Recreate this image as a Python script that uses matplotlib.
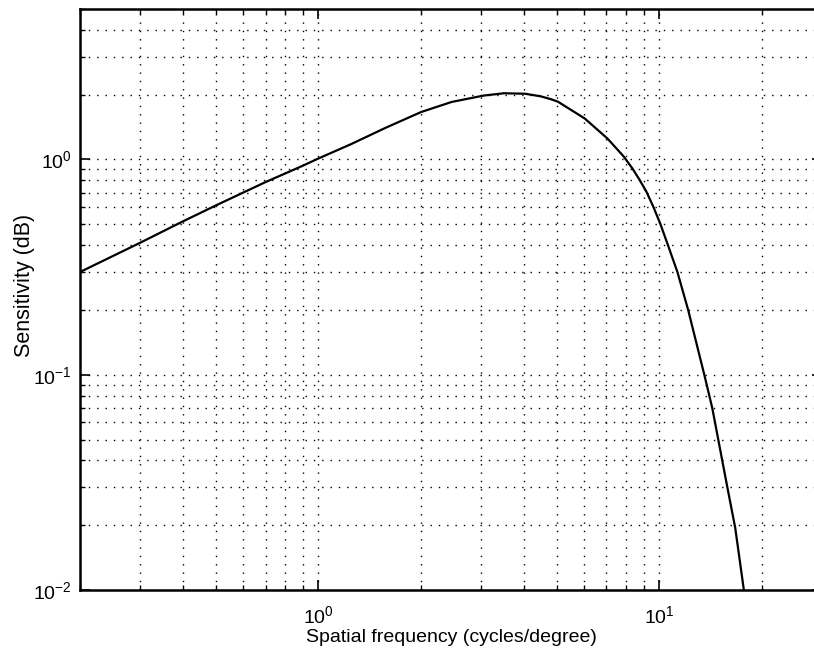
import matplotlib
matplotlib.use("Agg")
import matplotlib.pyplot as plt
from matplotlib.ticker import LogLocator, NullFormatter

plt.rcParams['font.family'] = ['Liberation Sans', 'DejaVu Sans']

freq = [0.2, 0.3, 0.4, 0.5, 0.6, 0.7, 0.9, 1.0, 1.25, 1.57, 2.0, 2.46, 3.05, 3.5,
        4.04, 4.5, 4.81, 5.04, 6.04, 7.05, 7.86, 8.34, 8.74, 9.16, 9.6,
        10.06, 10.6, 11.3, 12.15, 13.55, 14.3, 15.8, 16.7, 17.7]
sens = [0.30, 0.41, 0.515, 0.611, 0.70, 0.785, 0.935, 1.01, 1.18, 1.40, 1.66, 1.85, 1.98, 2.03,
        2.02, 1.963, 1.905, 1.856, 1.551, 1.25, 1.033, 0.908, 0.807, 0.71, 0.604,
        0.504, 0.4, 0.3, 0.2, 0.1, 0.07, 0.0305, 0.0194, 0.01]

fig = plt.figure(figsize=(8.14, 6.54), dpi=100)
ax = fig.add_axes([80/814, 64/654, 742/814, 581/654])
ax.plot(freq, sens, color='black', linewidth=1.6)
ax.set_xscale('log')
ax.set_yscale('log')
ax.set_xlim(0.2, 30)
ax.set_ylim(0.01, 5)

ax.xaxis.set_minor_locator(LogLocator(base=10, subs=range(2, 10), numticks=20))
ax.yaxis.set_minor_locator(LogLocator(base=10, subs=range(2, 10), numticks=20))
ax.xaxis.set_minor_formatter(NullFormatter())
ax.yaxis.set_minor_formatter(NullFormatter())

ax.grid(True, which='both', color='black', linestyle=(0, (1, 5)), linewidth=1.0)
ax.tick_params(which='both', direction='in', top=True, right=True, labelsize=14, color='black')
ax.tick_params(axis='x', which='major', pad=11)
ax.tick_params(axis='y', which='major', pad=6)
ax.tick_params(which='major', length=7, width=1.2)
ax.tick_params(which='minor', length=3.5, width=1)
for s in ax.spines.values():
    s.set_linewidth(1.8)

ax.set_xlabel('Spatial frequency (cycles/degree)', fontsize=14, labelpad=1)
ax.set_ylabel('Sensitivity (dB)', fontsize=15.5)
ax.yaxis.set_label_coords(-0.061, 0.525)

fig.savefig('out.png', dpi=100)
